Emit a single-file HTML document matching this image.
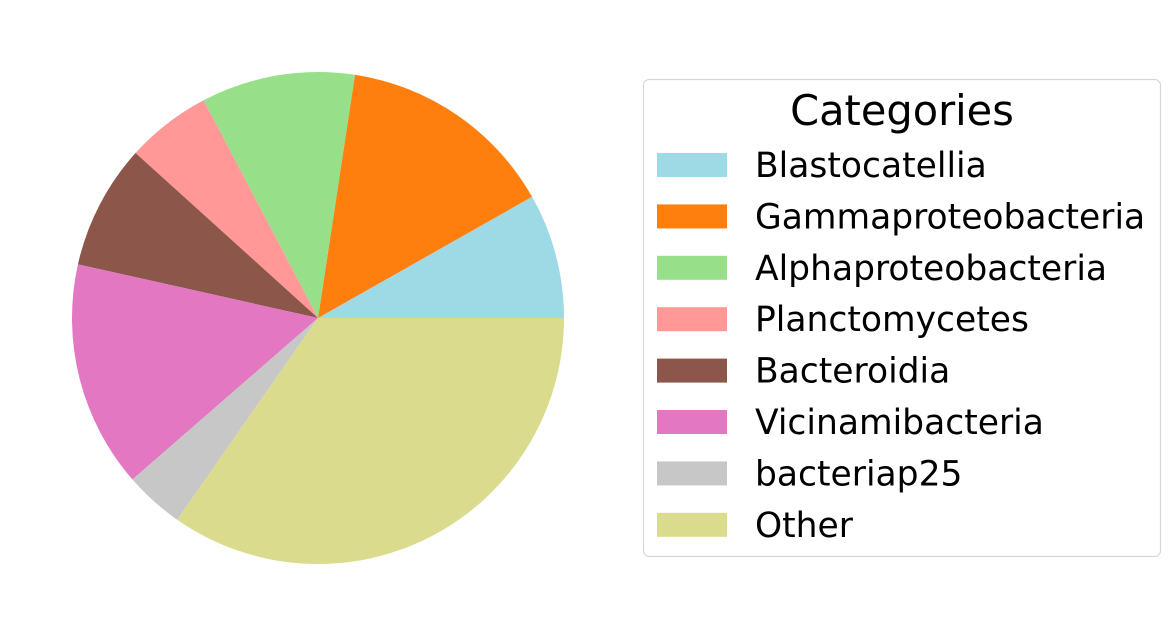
<!DOCTYPE html>
<html><head><meta charset="utf-8"><style>
html,body{margin:0;padding:0;background:#fff;}
svg{display:block;font-family:"DejaVu Sans","Liberation Sans",sans-serif;}
</style></head><body>
<svg id="chart" width="1170" height="636" viewBox="0 0 1170 636">
<g id="slices"></g>
<g id="legend">
<rect x="643.5" y="79.5" width="517" height="477" rx="6" fill="#fff" stroke="#d6d6d6" stroke-width="1.2"/>
<text x="902" y="125" font-size="41.5" text-anchor="middle" fill="#000">Categories</text>
</g>
</svg>
<script>
const categories = ["Blastocatellia","Gammaproteobacteria","Alphaproteobacteria","Planctomycetes","Bacteroidia","Vicinamibacteria","bacteriap25","Other"];
const values = [8.2,14.4,10.1,5.6,8.2,14.9,3.9,34.7];
const colors = ["#9edae5","#ff7f0e","#98df8a","#ff9896","#8c564b","#e377c2","#c7c7c7","#dbdb8d"];
const NS="http://www.w3.org/2000/svg";
const cx=318, cy=318, r=246;
const total=values.reduce((a,b)=>a+b,0);
const sg=document.getElementById('slices');
let a0=0;
values.forEach((v,i)=>{
  const a1=a0+v/total*2*Math.PI;
  const x0=cx+r*Math.cos(a0), y0=cy-r*Math.sin(a0);
  const x1=cx+r*Math.cos(a1), y1=cy-r*Math.sin(a1);
  const large=(a1-a0)>Math.PI?1:0;
  const p=document.createElementNS(NS,'path');
  p.setAttribute('d',`M${cx},${cy} L${x0},${y0} A${r},${r} 0 ${large} 0 ${x1},${y1} Z`);
  p.setAttribute('fill',colors[i]);
  
  
  sg.appendChild(p);
  a0=a1;
});
const lg=document.getElementById('legend');
categories.forEach((c,i)=>{
  const y=165+i*51.4;
  const rc=document.createElementNS(NS,'rect');
  rc.setAttribute('x',657);rc.setAttribute('y',y-12);rc.setAttribute('width',70);rc.setAttribute('height',24);
  rc.setAttribute('fill',colors[i]);
  
  
  lg.appendChild(rc);
  const t=document.createElementNS(NS,'text');
  t.setAttribute('x',755);t.setAttribute('y',y+12);t.setAttribute('font-size',34.5);t.setAttribute('fill','#000');
  t.textContent=c;
  
  
  lg.appendChild(t);
});
</script>
</body></html>
